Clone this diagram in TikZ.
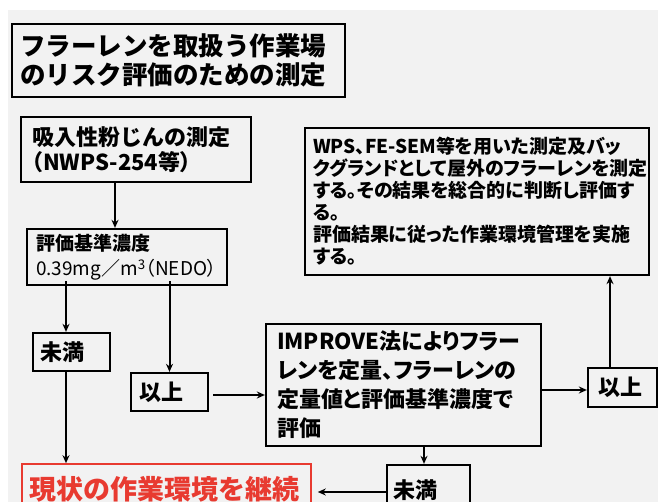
\documentclass[tikz,border=0pt]{standalone}
\usepackage{fontspec}
\setmainfont{Noto Sans CJK JP}
\newfontfamily\jpp{Noto Sans CJK JP}[RawFeature=+palt]
\usetikzlibrary{arrows.meta,calc}
\definecolor{bg}{RGB}{242,242,242}
\definecolor{redtxt}{RGB}{232,58,48}
\tikzset{
  box/.style={draw=black, line width=2.3pt, inner sep=0pt, align=left, font=\bfseries},
  redbox/.style={draw=redtxt, line width=1.6pt, inner sep=0pt, align=left, text=redtxt, font=\bfseries},
  arr/.style={line width=2pt, -{Stealth[length=8pt,width=7pt]}},
}
\begin{document}
\begin{tikzpicture}[x=1pt,y=-1pt]
\useasboundingbox (0,0) rectangle (658,502);
\clip (0,0) rectangle (658,502);
\fill[bg] (0,0) rectangle (658,502);
\fill[white] (0,0) rectangle (658,10);
\fill[white] (0,0) rectangle (8,502);
% title
\node[box, minimum width=333, minimum height=73, text width=317,
  font=\bfseries\fontsize{25.5}{28.5}\selectfont] (title) at (178.5,60.5)
  {\raisebox{-3pt}{\parbox{317pt}{フラーレンを取扱う作業場\\のリスク評価のための測定}}};
% box1
\node[box, minimum width=230, minimum height=65, text width=208,
  font=\bfseries\fontsize{22}{25}\selectfont] (b1) at (136,149.5)
  {\raisebox{-5pt}{\parbox{208pt}{吸入性粉じんの測定\\{\jpp\bfseries （NWPS-254等）}}}};
% box2
\node[box, minimum width=200, minimum height=56, text width=182,
  font=\fontsize{19}{25}\selectfont] (b2) at (127,257)
  {\textbf{評価基準濃度}\\{\jpp 0.39mg／m\textsuperscript{3}（NEDO）}};
% mi-man left
\node[box, minimum width=77, minimum height=38, text width=63,
  font=\bfseries\fontsize{22}{25}\selectfont] (m1) at (71.5,352) {未満};
% ijou left
\node[box, minimum width=77, minimum height=38, text width=61,
  font=\bfseries\fontsize{22}{25}\selectfont] (i1) at (169.5,392) {以上};
% improve
\node[box, minimum width=275, minimum height=122, text width=253,
  font=\jpp\bfseries\fontsize{22}{29}\selectfont] (imp) at (403.5,385)
  {\raisebox{-2pt}{\parbox{253pt}{IMPROVE法によりフラー\\レンを定量、フラーレンの\\定量値と評価基準濃度で\\評価}}};
% ijou right
\node[box, minimum width=69, minimum height=39, text width=49,
  font=\bfseries\fontsize{22}{25}\selectfont] (i2) at (622.5,387.5) {以上};
% wps
\node[box, minimum width=344, minimum height=147, text width=328,
  font=\jpp\bfseries\fontsize{19}{22}\selectfont] (wps) at (477,201.5)
  {\raisebox{-4pt}{\parbox{328pt}{WPS、FE-SEM等を用いた測定及バッ\\クグランドとして屋外のフラーレンを測定\\する。その結果を総合的に判断し評価す\\る。\\評価結果に従った作業環境管理を実施\\する。}}};
% red
\node[redbox, minimum width=289, minimum height=58, text width=275,
  font=\bfseries\fontsize{27}{30}\selectfont] (red) at (166.5,493)
  {\raisebox{10pt}{現状の作業環境を継続}};
% mi-man bottom
\node[box, minimum width=83, minimum height=50, text width=71,
  font=\bfseries\fontsize{22}{25}\selectfont] (m2) at (428.5,490)
  {\raisebox{2pt}{未満}};
% arrows
\draw[arr] ([xshift=-21pt]b1.south) -- ([xshift=-21pt]b1.south |- b2.north);
\draw[arr] ([xshift=-5.5pt,yshift=5pt]m1.north |- b2.south) -- ([xshift=-5.5pt]m1.north);
\draw[arr] ([xshift=-5.5pt]m1.south) -- ([xshift=-5.5pt]m1.south |- red.north);
\draw[arr] ([yshift=5pt]i1.north |- b2.south) -- (i1.north);
\draw[arr] ([xshift=4pt,yshift=-3pt]i1.east) -- ([yshift=-3pt]i1.east -| imp.west);
\draw[arr] ([yshift=-2.5pt]i2.west -| imp.east) -- ([yshift=-2.5pt]i2.west);
\draw[arr] ([xshift=-12.5pt]i2.north) -- ([xshift=-12.5pt]i2.north |- wps.south);
\draw[arr] ([xshift=-4.5pt]m2.north |- imp.south) -- ([xshift=-4.5pt]m2.north);
\draw[arr] ([yshift=-2pt]m2.west) -- ([xshift=6pt,yshift=-2pt]m2.west -| red.east);
\end{tikzpicture}
\end{document}
